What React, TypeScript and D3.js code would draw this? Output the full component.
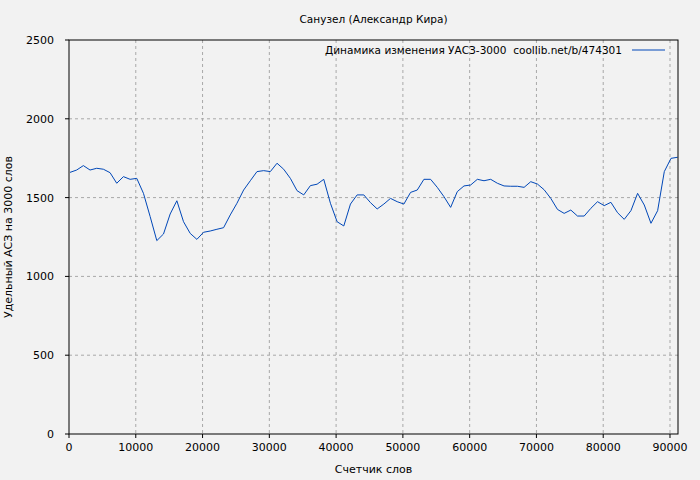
import React from "react";
import * as d3 from "d3";

const title = "Санузел (Александр Кира)";
const xLabel = "Счетчик слов";
const yLabel = "Удельный АСЗ на 3000 слов";
const legendLabel = "Динамика изменения УАСЗ-3000  coollib.net/b/474301";

const xTicks = [0, 10000, 20000, 30000, 40000, 50000, 60000, 70000, 80000, 90000];
const yTicks = [0, 500, 1000, 1500, 2000, 2500];

const values = [
  1660, 1675, 1703, 1675, 1686, 1680, 1658, 1591, 1633, 1616,
  1622, 1527, 1380, 1227, 1269, 1396, 1480, 1347, 1273, 1235,
  1280, 1288, 1299, 1309, 1390, 1464, 1548, 1607, 1665, 1671,
  1665, 1718, 1680, 1622, 1544, 1517, 1576, 1585, 1616, 1464,
  1347, 1320, 1459, 1517, 1517, 1468, 1428, 1459, 1495, 1474,
  1459, 1533, 1548, 1616, 1616, 1565, 1506, 1438, 1538, 1574,
  1580, 1616, 1607, 1616, 1591, 1574, 1572, 1572, 1565, 1601,
  1586, 1550, 1495, 1425, 1400, 1421, 1383, 1383, 1432, 1474,
  1449, 1470, 1404, 1362, 1417, 1527, 1453, 1337, 1417, 1665,
  1749, 1756,
];
const words = values.map((_, i) => 150 + i * 1000);

const W = 700;
const H = 480;
const L = 69;
const R = 678;
const T = 40;
const B = 434;

export default function App() {
  const x = d3.scaleLinear().domain([0, 91200]).range([L, R]);
  const y = d3.scaleLinear().domain([0, 2500]).range([B, T]);
  const line = d3
    .line<number>()
    .x((_, i) => x(words[i]))
    .y((d) => y(d));
  const font = "DejaVu Sans, sans-serif";
  return (
    <svg
      width={W}
      height={H}
      style={{ position: "absolute", left: 0, top: 0, background: "#f2f2f2" }}
      fontFamily={font}
    >
      <rect x={0} y={0} width={W} height={H} fill="#f2f2f2" />
      {xTicks
        .filter((t) => t > 0)
        .map((t) => (
          <line
            key={"gx" + t}
            x1={x(t)}
            x2={x(t)}
            y1={T}
            y2={B}
            stroke="#a8a8a8"
            strokeDasharray="3,3"
          />
        ))}
      {yTicks
        .filter((t) => t > 0 && t < 2500)
        .map((t) => (
          <line
            key={"gy" + t}
            x1={L}
            x2={R}
            y1={y(t)}
            y2={y(t)}
            stroke="#a8a8a8"
            strokeDasharray="3,3"
          />
        ))}
      <path d={line(values) || ""} fill="none" stroke="#0047b8" strokeWidth={1} />
      <rect x={L} y={T} width={R - L} height={B - T} fill="none" stroke="#000" strokeWidth={1} />
      {xTicks.map((t) => (
        <g key={"tx" + t}>
          <line x1={x(t)} x2={x(t)} y1={B} y2={B + 4} stroke="#000" />
          <text x={x(t)} y={B + 17} textAnchor="middle" fontSize={11} fill="#000">
            {t}
          </text>
        </g>
      ))}
      {yTicks.map((t) => (
        <g key={"ty" + t}>
          <line x1={L - 4} x2={L} y1={y(t)} y2={y(t)} stroke="#000" />
          <text x={L - 15} y={y(t) + 4} textAnchor="end" fontSize={11} fill="#000">
            {t}
          </text>
        </g>
      ))}
      <text x={(L + R) / 2} y={23} textAnchor="middle" fontSize={11} fill="#000" textLength={148} lengthAdjust="spacingAndGlyphs">
        {title}
      </text>
      <text x={(L + R) / 2} y={473} textAnchor="middle" fontSize={11} fill="#000">
        {xLabel}
      </text>
      <text
        transform={`translate(12, ${(T + B) / 2}) rotate(-90)`}
        textAnchor="middle"
        fontSize={11}
        fill="#000"
      >
        {yLabel}
      </text>
      <text
        x={325}
        y={54}
        fontSize={11}
        fill="#000"
        style={{ whiteSpace: "pre" }}
        textLength={297}
        lengthAdjust="spacingAndGlyphs"
      >
        {legendLabel}
      </text>
      <line x1={632} x2={665} y1={50} y2={50} stroke="#0047b8" strokeWidth={1} />
    </svg>
  );
}
